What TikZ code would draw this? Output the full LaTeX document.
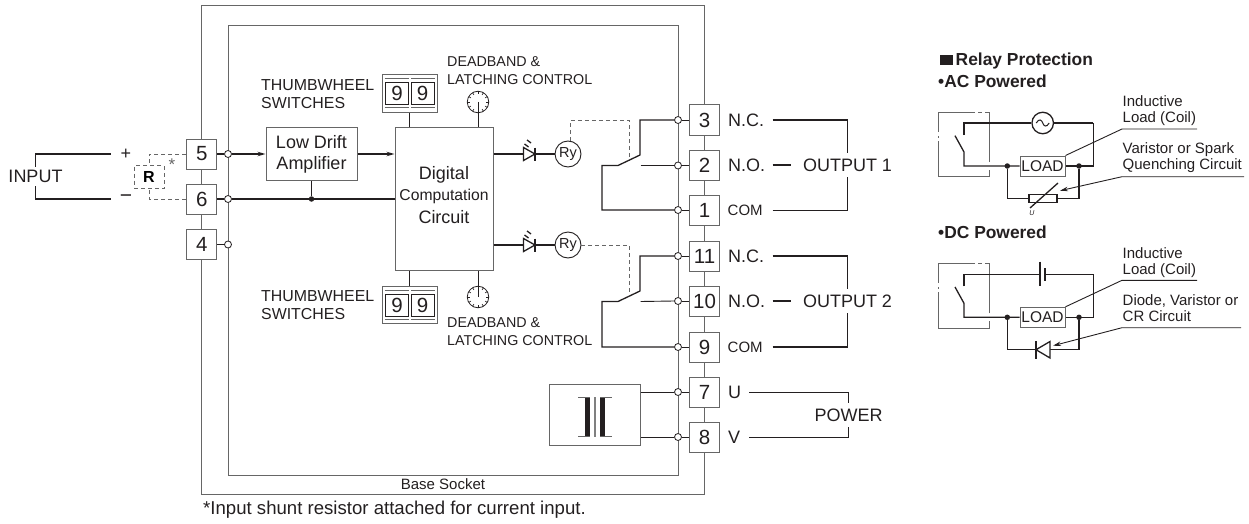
\documentclass[tikz,border=0pt]{standalone}
\usepackage{fontspec}
\setmainfont{Liberation Sans}
\usetikzlibrary{arrows.meta}

\definecolor{inkc}{HTML}{231F20}
\definecolor{linec}{HTML}{666666}

\tikzset{
    lab/.style={font=\fontsize{18}{21}\selectfont,text=inkc,inner sep=0pt},
    smalllab/.style={font=\fontsize{14.3}{18}\selectfont,text=inkc,inner sep=0pt,align=left},
    notelab/.style={font=\fontsize{15}{16}\selectfont,text=inkc,inner sep=0pt,align=left},
    boldlab/.style={font=\fontsize{17.4}{20}\selectfont\bfseries,text=inkc,inner sep=0pt},
    termbox/.style={draw=linec,line width=1pt,fill=white,minimum size=30pt,inner sep=0pt,
        font=\fontsize{20.5}{22}\selectfont,text=inkc},
    hollow/.style={circle,draw=inkc,line width=0.8pt,fill=white,minimum size=7pt,inner sep=0pt},
    dot/.style={circle,fill=inkc,minimum size=5.5pt,inner sep=0pt},
    blockbox/.style={draw=linec,line width=1pt,fill=white,inner sep=0pt,align=center},
    wire/.style={draw=inkc,line width=1.3pt},
    thinwire/.style={draw=inkc,line width=0.9pt},
    grayline/.style={draw=linec,line width=1pt},
    dashwire/.style={draw=linec,line width=0.9pt,dash pattern=on 4pt off 3pt},
    >={Stealth[length=8pt,width=4.5pt]}
}

\begin{document}
\begin{tikzpicture}[x=1pt,y=-1pt]
    \useasboundingbox (0,0) rectangle (1249,524);

    \node[grayline,draw,minimum width=502.5pt,minimum height=488pt,inner sep=0pt] (basesocket) at (453.2,250) {};
    \node[grayline,draw,minimum width=450pt,minimum height=449pt,inner sep=0pt] (innersocket) at (453,250.5) {};
    \node[smalllab,font=\fontsize{15}{18}\selectfont] (socketlab) at (443,484.5) {Base Socket};
    \node[notelab,anchor=west,font=\fontsize{18.6}{20}\selectfont] (footnote) at (203,510) {*Input shunt resistor attached for current input.};

    \foreach \n/\yy in {5/154,6/199,4/244.5}
    {
        \node[termbox] (t\n) at (201.7,\yy) {\n};
        \node[hollow] (h\n) at (228,\yy) {};
        \draw[wire] (t\n.east) -- (h\n.west);
    }
    \foreach \n/\yy in {3/120,2/165.5,1/210,11/256,10/301,9/347,7/392,8/437}
    {
        \node[termbox] (t\n) at (704.5,\yy) {\n};
        \node[hollow] (h\n) at (678,\yy) {};
        \draw[thinwire] (t\n.west) -- (h\n.east);
    }

    \node[lab,inner ysep=3pt] (input) at (35.5,176.5) {INPUT};
    \node[lab] (plus) at (126,154) {+};
    \node[lab,font=\fontsize{21}{22}\selectfont] (minus) at (126,199) {−};
    \coordinate (plusend) at (110.7,154);
    \coordinate (minusend) at (110.7,199);
    \draw[wire] (plusend) -| (input.north);
    \draw[wire] (minusend) -| (input.south);
    \node[dashwire,draw,minimum width=30pt,minimum height=23pt,inner sep=0pt,
        font=\fontsize{16}{18}\selectfont\bfseries] (rbox) at (149,177) {R};
    \node[lab,font=\fontsize{17}{18}\selectfont,text=linec] (star) at (172,165) {*};
    \draw[dashwire] (t5.west) -| (rbox.north);
    \draw[dashwire] (t6.west) -| (rbox.south);

    \node[blockbox,lab,draw=linec,minimum width=91pt,minimum height=53pt] (amp) at (311.5,154) {Low Drift\\[0pt]Amplifier};
    \node[blockbox,draw=linec,minimum width=98pt,minimum height=143pt] (digital) at (444,199.4) {};
    \node[lab] (digital1) at (444,175) {Digital};
    \node[lab,font=\fontsize{15.7}{18}\selectfont] (digital2) at (444,196) {Computation};
    \node[lab] (digital3) at (444,217) {Circuit};

    \draw[wire,->] (h5.east) -- (amp.west);
    \draw[wire,->] (amp.east) -- (digital.west |- amp.east);
    \draw[wire] (h6.east) -- (digital.west |- h6);
    \node[dot] (junc) at (amp.south |- h6) {};
    \draw[wire] (amp.south) -- (junc);

    \foreach \nm/\yy in {a/75,b/286.5}
    {
        \node[blockbox,minimum width=55.5pt,minimum height=37.5pt] (thumb\nm) at (409.8,\yy+18.7) {};
        \node[draw=inkc,line width=0.8pt,minimum width=23pt,minimum height=22pt,inner sep=0pt,
            font=\fontsize{20.5}{22}\selectfont,text=inkc] (nine\nm) at (397,\yy+18.5) {9};
        \node[draw=inkc,line width=0.8pt,minimum width=23pt,minimum height=22pt,inner sep=0pt,
            font=\fontsize{20.5}{22}\selectfont,text=inkc] (ninf\nm) at (422.5,\yy+18.5) {9};
        \draw[grayline] (384.5,\yy+3.5) -- (408.5,\yy+3.5);
        \draw[grayline] (411,\yy+3.5) -- (435,\yy+3.5);
        \draw[grayline] (384.5,\yy+33) -- (408.5,\yy+33);
        \draw[grayline] (411,\yy+33) -- (435,\yy+33);
    }
    \draw[thinwire] (thumba.south) -- (thumba.south |- digital.north);
    \draw[thinwire] (thumbb.north) -- (thumbb.north |- digital.south);

    \foreach \nm/\yy in {a/102,b/297}
    {
        \node[circle,draw=inkc,line width=0.8pt,minimum size=21.5pt,inner sep=0pt] (dial\nm) at (478,\yy) {};
        \foreach \ang in {0,30,...,330}
            \draw[thinwire,line width=0.6pt] (dial\nm.center) ++(\ang:8.2) -- ++(\ang:2.6);
    }
    \draw[thinwire] (diala.center) -- (diala.center |- digital.north);
    \draw[thinwire] (dialb.center) -- (dialb.center |- digital.south);

    \node[smalllab,anchor=west,font=\fontsize{15.9}{18}\selectfont] (thumblaba) at (261,94) {THUMBWHEEL\\SWITCHES};
    \node[smalllab,anchor=west,font=\fontsize{15.9}{18}\selectfont] (thumblabb) at (261,305) {THUMBWHEEL\\SWITCHES};
    \node[smalllab,anchor=west] (deadlaba) at (447,71) {DEADBAND \&\\LATCHING CONTROL};
    \node[smalllab,anchor=west] (deadlabb) at (447,332) {DEADBAND \&\\LATCHING CONTROL};

    \foreach \nm/\yy in {a/154,b/245}
    {
        \node[circle,draw=inkc,line width=0.9pt,fill=white,minimum size=26pt,inner sep=0pt,
            font=\fontsize{14.5}{16}\selectfont,text=inkc] (ry\nm) at (568,\yy) {Ry};
        \draw[wire] (digital.east |- ry\nm) -- (ry\nm.west);
        \draw[wire,fill=white] (523.5,\yy-6.5) -- (523.5,\yy+6.5) -- (535,\yy) -- cycle;
        \draw[wire] (535,\yy-6.5) -- (535,\yy+6.5);
        \draw[wire] (524.5,\yy-10) -- (528.5,\yy-7);
        \draw[wire] (527,\yy-14) -- (531,\yy-11);
    }
    \coordinate (tapa) at (629,160);
    \coordinate (tapb) at (629,293);
    \coordinate (dashturn) at (570.5,120);
    \draw[dashwire] (rya.north -| dashturn) -- (dashturn) -| (tapa);
    \draw[dashwire] (ryb.east) -| (tapb);

    \foreach \nm/\nc/\no/\co/\yy in {a/3/2/1/0,b/11/10/9/136}
    {
        \coordinate (tip\nm) at (640,155+\yy);
        \coordinate (pivot\nm) at (618,165.5+\yy);
        \coordinate (back\nm) at (602,165.5+\yy);
        \coordinate (noend\nm) at (640.5,165.5+\yy);
        \draw[wire] (h\nc.west) -| (tip\nm) -- (pivot\nm) -- (back\nm) |- (h\co.west);
        \draw[thinwire] (noend\nm) -- (h\no.west);
    }

    \foreach \n/\txt/\yy in {3/N.C./120,2/N.O./165.5,11/N.C./256,10/N.O./301}
        \node[lab,anchor=west] (tag\n) at (728,\yy) {\txt};
    \foreach \n/\yy in {1/210.5,9/347}
        \node[lab,anchor=west,font=\fontsize{15}{16}\selectfont] (tag\n) at (727.5,\yy) {COM};
    \node[lab,anchor=west] (tag7) at (728,392) {U};
    \node[lab,anchor=west] (tag8) at (728,437) {V};

    \node[lab,inner ysep=5pt] (outa) at (847.5,165) {OUTPUT 1};
    \node[lab,inner ysep=5pt] (outb) at (847.5,301) {OUTPUT 2};
    \node[lab,inner ysep=5pt] (power) at (848.5,415) {POWER};
    \foreach \nm/\yy in {a/120,b/256}
        \coordinate (ncend\nm) at (772.7,\yy);
    \foreach \nm/\yy in {a/210.5,b/347}
        \coordinate (comend\nm) at (772.7,\yy);
    \foreach \nm/\yy in {a/165,b/301}
    {
        \coordinate (noa\nm) at (772.7,\yy);
        \coordinate (nob\nm) at (791,\yy);
        \draw[wire] (noa\nm) -- (nob\nm);
    }
    \foreach \nm in {a,b}
    {
        \draw[wire] (ncend\nm) -| (out\nm.north);
        \draw[wire] (comend\nm) -| (out\nm.south);
    }
    \coordinate (uend) at (749,392);
    \coordinate (vend) at (749,437);
    \draw[thinwire] (uend) -| (power.north);
    \draw[thinwire] (vend) -| (power.south);

    \node[blockbox,minimum width=91pt,minimum height=61pt] (trafo) at (594.5,414.5) {};
    \draw[thinwire] (trafo.east |- h7) -- (h7.west);
    \draw[thinwire] (trafo.east |- h8) -- (h8.west);
    \fill[inkc] (585,397) rectangle (590,436.7);
    \fill[inkc] (600,397) rectangle (605,436.7);
    \draw[grayline] (578,397.5) -- (590,397.5);
    \draw[grayline] (578,436.2) -- (590,436.2);
    \draw[grayline] (600,397.5) -- (612,397.5);
    \draw[grayline] (600,436.2) -- (612,436.2);
    \draw[draw=gray,line width=1.8pt] (595,397) -- (595,436.7);

    \fill[inkc] (940,55) rectangle (953,65.5);
    \node[boldlab,anchor=west] (protlab) at (955.5,61) {Relay Protection};
    \node[boldlab,anchor=west] (aclab) at (938,81.5) {•AC Powered};
    \node[boldlab,anchor=west] (dclab) at (938,232.5) {•DC Powered};

    \foreach \nm/\yy in {ac/0,dc/151.3}
    {
        \draw[grayline] (975,112.5+\yy) -- (938,112.5+\yy) -- (938,132+\yy);
        \draw[grayline] (938,136+\yy) -- (938,138+\yy);
        \draw[grayline] (938,141+\yy) -- (938,176.7+\yy) -- (989,176.7+\yy) -- (989,170+\yy);
        \draw[grayline] (989,162+\yy) -- (989,112.5+\yy) -- (985,112.5+\yy);
        \draw[grayline] (978,112.5+\yy) -- (982,112.5+\yy);

        \node[blockbox,minimum width=45pt,minimum height=20pt,font=\fontsize{15.5}{16}\selectfont,text=inkc] (load\nm) at (1042.5,166+\yy) {LOAD};
        \coordinate (swtop\nm) at (964,135+\yy);
        \coordinate (swbot\nm) at (964,152+\yy);
        \coordinate (swfree\nm) at (955,135.7+\yy);
        \coordinate (corner\nm) at (1093.3,123+\yy);
        \draw[wire] (swfree\nm) -- (swbot\nm) |- (load\nm.west);
        \draw[wire] (corner\nm) |- (load\nm.east);
        \node[dot] (dotl\nm) at (1007.3,166+\yy) {};
        \node[dot] (dotr\nm) at (1079,166+\yy) {};

        \node[notelab,anchor=west] (loadlab\nm) at (1122.5,111+\yy) {Inductive\\Load (Coil)};
        \coordinate (ulstart\nm) at (1122,129+\yy);
        \coordinate (ulend\nm) at (1197,129+\yy);
        \draw[thinwire] (ulend\nm) -- (ulstart\nm) -- (load\nm.north east);
    }

    \node[circle,draw=inkc,line width=1.3pt,fill=white,minimum size=21.5pt,inner sep=0pt] (source) at (1042.7,123) {};
    \draw[wire] (swtopac) |- (source.west);
    \draw[wire] (source.east) -- (cornerac);
    \draw[thinwire,line width=1pt] (source.center) ++(-6.5,0) .. controls (-3.5+1042.7,118) and (-1+1042.7,120) .. (source.center) .. controls (1+1042.7,126) and (3.5+1042.7,128) .. ++(6.5,0);

    \node[draw=inkc,line width=1.3pt,minimum width=28pt,minimum height=8.5pt,inner sep=0pt] (vari) at (1043,198.5) {};
    \draw[wire] (dotlac) |- (vari.west);
    \draw[wire] (dotrac) |- (vari.east);
    \coordinate (varia) at (1030,208);
    \coordinate (varib) at (1058,183);
    \draw[wire] (varia) -- (varib);
    \node[font=\fontsize{7}{8}\selectfont\itshape,text=inkc,inner sep=0pt] (varu) at (1032,213) {U};
    \node[notelab,anchor=west] (varilab) at (1122.5,158) {Varistor or Spark\\Quenching Circuit};
    \coordinate (vlstart) at (1122,176.7);
    \coordinate (vlend) at (1244,176.7);
    \coordinate (vlhead) at (1060,190.7);
    \draw[thinwire,->] (vlend) -- (vlstart) -- (vlhead);

    \coordinate (platea) at (1040,274.3);
    \coordinate (plateb) at (1045,274.3);
    \draw[wire] (swtopdc) |- (platea);
    \draw[wire] (plateb) -- (cornerdc);
    \draw[wire] (1040,261.7) -- (1040,286);
    \draw[wire] (1045,268) -- (1045,280.7);

    \coordinate (diotip) at (1036,349.7);
    \coordinate (diobase) at (1050,349.7);
    \draw[wire] (dotldc) |- (diotip);
    \draw[wire] (dotrdc) |- (diobase);
    \draw[wire,fill=white] (diotip) -- (1050,341.5) -- (1050,358) -- cycle;
    \draw[wire] (1036,341) -- (1036,358.5);
    \node[notelab,anchor=west] (diolab) at (1122.5,308.5) {Diode, Varistor or\\CR Circuit};
    \coordinate (dlstart) at (1122,327.7);
    \coordinate (dlend) at (1241,327.7);
    \coordinate (dlhead) at (1053,345.7);
    \draw[thinwire,->] (dlend) -- (dlstart) -- (dlhead);
\end{tikzpicture}
\end{document}
